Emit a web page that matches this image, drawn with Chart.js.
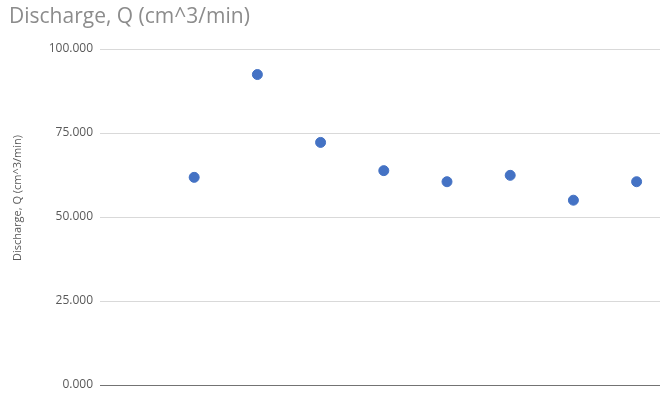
<!DOCTYPE html>
<html>
<head>
<meta charset="utf-8">
<script src="https://cdn.jsdelivr.net/npm/chart.js@4.4.1/dist/chart.umd.min.js"></script>
<style>
  html, body { margin: 0; padding: 0; background: #fff; }
  #wrap { width: 661px; height: 396px; }
</style>
</head>
<body>
<div id="wrap"><canvas id="grafico" width="661" height="396"></canvas></div>
<script>
// datos
const ensayos = [1, 2, 3, 4, 5, 6, 7, 8];
const caudal = [61.8, 92.4, 72.2, 63.8, 60.5, 62.4, 55.0, 60.5];
const ticksY = [0, 25, 50, 75, 100];

const tituloGrafico = 'Discharge, Q (cm^3/min)';
const tituloEjeY = 'Discharge, Q (cm^3/min)';

const puntos = ensayos.map((x, i) => ({ x: x, y: caudal[i] }));

// titulos dibujados a mano para poder ubicarlos como en la planilla
const titulos = {
  id: 'titulos',
  afterDraw(chart) {
    const c = chart.ctx;
    c.save();
    c.fillStyle = '#8c8c8c';
    c.font = '21px "Open Sans"';
    c.textAlign = 'left';
    c.textBaseline = 'alphabetic';
    c.fillText(tituloGrafico, 9, 23);

    c.fillStyle = '#595959';
    c.font = '11px "Open Sans"';
    c.translate(18, 198);
    c.rotate(-Math.PI / 2);
    c.textAlign = 'center';
    c.textBaseline = 'middle';
    c.fillText(tituloEjeY, 0, 0);
    c.restore();
  }
};

const ctx = document.getElementById('grafico').getContext('2d');

new Chart(ctx, {
  type: 'scatter',
  data: {
    datasets: [{
      data: puntos,
      backgroundColor: '#4472c4',
      borderColor: '#4472c4',
      borderWidth: 1,
      pointRadius: 5,
      pointHoverRadius: 5
    }]
  },
  options: {
    responsive: false,
    animation: false,
    layout: { autoPadding: false, padding: { left: 0, right: 1, top: 49, bottom: 11 } },
    plugins: {
      legend: { display: false },
      tooltip: { enabled: false },
      title: { display: false }
    },
    scales: {
      x: {
        type: 'linear',
        display: false,
        min: -0.49,
        max: 8.37
      },
      y: {
        min: 0,
        max: 100,
        afterBuildTicks: function(scale) {
          scale.ticks = ticksY.map(v => ({ value: v }));
        },
        ticks: {
          color: '#595959',
          font: { family: 'Open Sans', size: 12 },
          padding: 3,
          callback: v => Number(v).toFixed(3)
        },
        grid: {
          color: c => (c.tick && c.tick.value === 0) ? '#737373' : '#d9d9d9',
          lineWidth: 1,
          drawTicks: true,
          tickLength: 4,
          tickColor: 'rgba(0,0,0,0)'
        },
        border: { display: false },
        title: { display: false },
        afterFit: function(scale) { scale.width = 100; }
      }
    }
  },
  plugins: [titulos]
});
</script>
</body>
</html>
